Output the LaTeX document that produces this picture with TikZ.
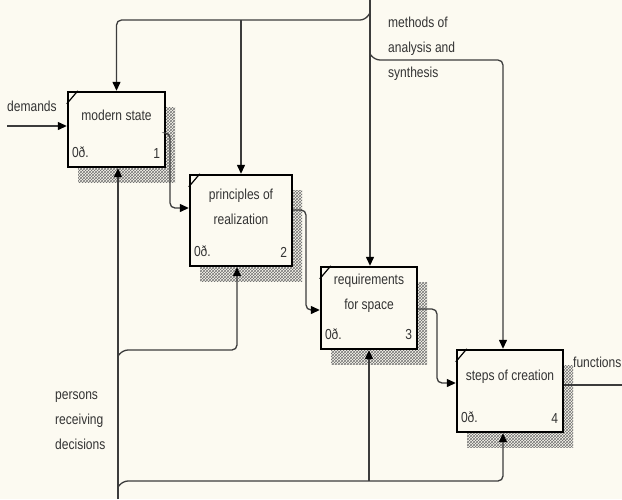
\documentclass[tikz,border=0pt]{standalone}
\usepackage{fontspec}
\setmainfont{Liberation Sans}[FakeStretch=0.83]
\usetikzlibrary{
  arrows.meta,
  positioning,  % Function "of" (e.g. [below=of x])
  calc,         % Calculations $...$
  shadows,      % Hatched drop shadow of the boxes
  patterns,
}
\definecolor{paper}{RGB}{252,250,241}
\definecolor{wire}{RGB}{60,60,60}
\tikzset{
  font=\fontsize{14.5}{25}\selectfont,
  x=1pt, y=-1pt,
  wire/.style={
    draw=wire,
    line width=1.3pt
  },
  flow/.style={
    wire,
    rounded corners=5pt,
    -{Triangle[length=9pt,width=8pt,color=black]}
  },
  act box/.style={
    draw,
    line width=2.4pt,
    fill=paper,
    inner sep=0pt,
    drop shadow={shadow xshift=10pt, shadow yshift=-15pt, opacity=1,
                 pattern=crosshatch, pattern color=black!55}
  },
  act text/.style={
    inner sep=0pt,
    align=center,
    text=black!80
  },
  corner/.style={
    inner sep=0pt,
    text=black!80
  },
  lbl/.style={
    inner sep=0pt,
    align=left,
    anchor=west,
    text=black!80
  }
}

\begin{document}
\begin{tikzpicture}
\fill[paper] (0,0) rectangle (622,499);
\useasboundingbox (0,0) rectangle (622,499);
% activities
\node[act box, minimum width=97pt,  minimum height=75pt] (b1) at (116.5,129.5) {};
\node[act box, minimum width=102pt, minimum height=91pt] (b2) at (241,220.5)   {};
\node[act box, minimum width=96pt,  minimum height=82pt] (b3) at (369,308)     {};
\node[act box, minimum width=106pt, minimum height=82pt] (b4) at (510,391)     {};
\node[act text, below=18.5pt of b1.north] (t1) {modern state};
\node[act text, below=15pt of b2.north]   (t2) {principles of\\realization};
\node[act text, below=8pt of b3.north]    (t3) {requirements\\for space};
\node[act text, below=20.5pt of b4.north] (t4) {steps of creation};
\foreach \b/\n in {b1/1,b2/2,b3/3,b4/4} {
  \draw[line width=1.2pt] ($(\b.north west)+(0,13)$) -- ($(\b.north west)+(11,0)$);
  \node[corner, above right=10pt and 5pt of \b.south west] (\b c) {0ð.};
  \node[corner, above left=10pt and 6pt of \b.south east]  (\b n) {\n};
}
% controls
\coordinate (ctl) at (370,0);
\coordinate (c4)  at (503,60);
\draw[flow] (ctl) -- (ctl |- b3.north);
\draw[flow] ($(ctl)+(0,13)$) -- ++(-5,7) -- (b1.north |- 0,20) -- (b1.north);
\draw[flow] (b2.north |- 0,20) -- (b2.north);
\draw[flow] ($(ctl)+(0,54)$) -- ++(5,6) -- (c4) -- (c4 |- b4.north);
% mechanisms
\coordinate (mech) at (118,499);
\coordinate (m2)   at (237,350);
\coordinate (m4)   at (503,481);
\draw[flow] (mech) -- (mech |- b1.south);
\draw[flow] (mech |- 0,356) -- ++(5,-6) -- (m2) -- (m2 |- b2.south);
\draw[flow] (mech |- 0,487) -- ++(5,-6) -- (m4) -- (m4 |- b4.south);
\draw[flow] (b3.south |- m4) -- (b3.south);
% inputs and outputs
\coordinate (in)  at (7,126);
\coordinate (out) at (622,385);
\draw[flow] (in) -- (in -| b1.west);
\draw[flow] (b1.east |- 0,133) -| (170,208) -- (b2.west |- 0,208);
\draw[flow] (b2.east |- 0,210) -| (306,310) -- (b3.west |- 0,310);
\draw[flow] (b3.east |- 0,309) -| (437,383) -- (b4.west |- 0,383);
\draw[wire] (b4.east |- out) -- (out);
% labels
\node[lbl] (ldem)  at (7,106)   {demands};
\node[lbl] (lmeth) at (388,49)  {methods of\\analysis and\\synthesis};
\node[lbl] (lpers) at (55,421)  {persons\\receiving\\decisions};
\node[lbl] (lfun)  at (573,362) {functions};
\end{tikzpicture}
\end{document}
